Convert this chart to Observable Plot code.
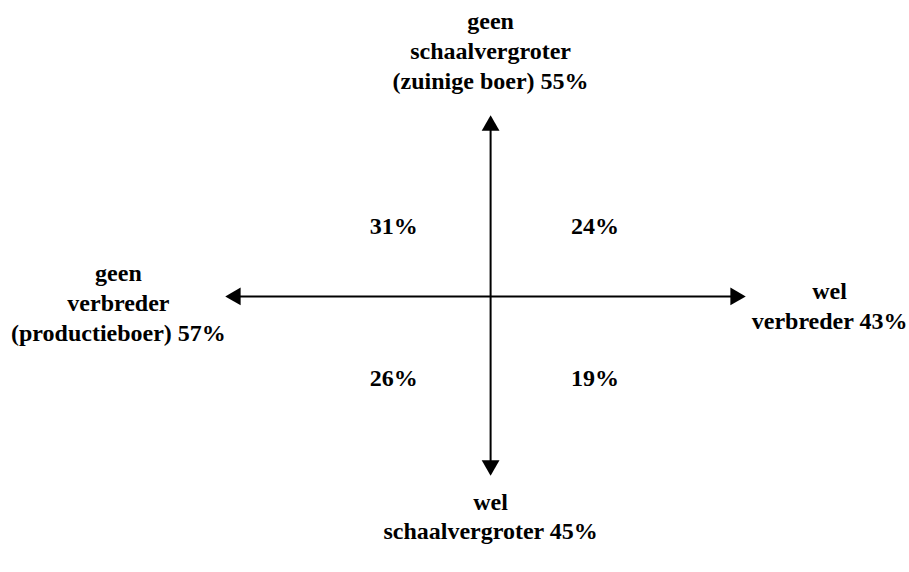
<!DOCTYPE html>
<html>
<head>
<meta charset="utf-8">
<script src="https://cdn.jsdelivr.net/npm/d3@7"></script>
<script src="https://cdn.jsdelivr.net/npm/@observablehq/plot@0.6"></script>
<style>
  html, body { margin: 0; padding: 0; background: #fff; }
</style>
</head>
<body>
<div id="chart"></div>
<script>
// ---- data ----
const axisDirections = ["up", "down", "left", "right"];
const axisLabels = [
  "geen\nschaalvergroter\n(zuinige boer) 55%",
  "wel\nschaalvergroter 45%",
  "geen\nverbreder\n(productieboer) 57%",
  "wel\nverbreder 43%"
];
const quadVerbreder = ["geen", "wel", "geen", "wel"];
const quadSchaalvergroter = ["geen", "geen", "wel", "wel"];
const quadPercent = [31, 24, 26, 19];

// ---- layout (diagram units) ----
const layout = {
  tips: {left: [-1.04, 0], right: [1, 0], up: [0, 1.01], down: [0, -1]},
  quadX: {geen: -0.38, wel: 0.41},
  quadY: {geen: 0.39, wel: -0.46},
  labels: {up: [0, 1.38], down: [0, -1.22], left: [-1.46, -0.03], right: [1.33, -0.045]},
  rotate: {up: 0, right: 90, down: 180, left: 270},
  headOffset: {up: [0, 10], down: [0, -10], left: [10, 0], right: [-10, 0]}
};

const font = {fontFamily: "'Liberation Serif', 'Times New Roman', serif", fontWeight: "bold", fontSize: 24, fill: "black"};

const labelData = axisDirections.map((d, i) => ({dir: d, text: axisLabels[i]}));
const quadData = quadPercent.map((v, i) => ({v: quadVerbreder[i], s: quadSchaalvergroter[i], pct: v}));
const axesData = [
  {from: layout.tips.left, to: layout.tips.right},
  {from: layout.tips.down, to: layout.tips.up}
];

const chart = Plot.plot({
  width: 909,
  height: 572,
  margin: 0,
  x: {domain: [-1.04, 1], range: [225, 745], axis: null},
  y: {domain: [-1, 1.01], range: [475, 115], axis: null},
  style: {background: "white"},
  marks: [
    Plot.arrow(axesData, {
      x1: d => d.from[0], y1: d => d.from[1],
      x2: d => d.to[0], y2: d => d.to[1],
      stroke: "black", strokeWidth: 2, headLength: 0, inset: 8
    }),
    ...axisDirections.map(dir => Plot.dot([dir], {
      x: d => layout.tips[d][0],
      y: d => layout.tips[d][1],
      symbol: "triangle",
      r: 6.6,
      fill: "black",
      stroke: "none",
      rotate: layout.rotate[dir],
      dx: layout.headOffset[dir][0],
      dy: layout.headOffset[dir][1]
    })),
    Plot.text(quadData, {
      x: d => layout.quadX[d.v],
      y: d => layout.quadY[d.s],
      text: d => d.pct + "%",
      textAnchor: "middle",
      lineAnchor: "middle",
      ...font
    }),
    Plot.text(labelData, {
      x: d => layout.labels[d.dir][0],
      y: d => layout.labels[d.dir][1],
      text: "text",
      textAnchor: "middle",
      lineAnchor: "middle",
      lineHeight: 1.25,
      ...font
    })
  ]
});
document.getElementById("chart").appendChild(chart);
</script>
</body>
</html>
